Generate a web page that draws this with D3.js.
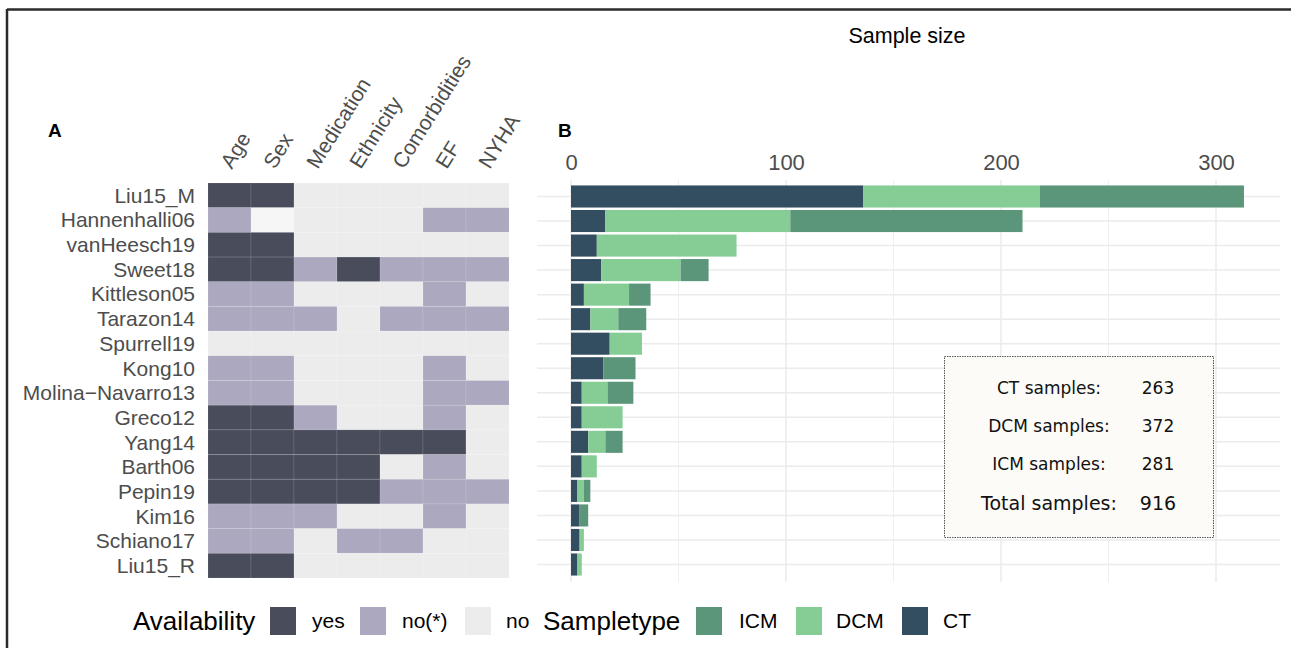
<!DOCTYPE html>
<html>
<head>
<meta charset="utf-8">
<script src="https://cdn.jsdelivr.net/npm/d3@7"></script>
<style>
  html, body { margin: 0; padding: 0; background: #fff; }
  svg { display: block; }
</style>
</head>
<body>
<svg id="fig" width="1291" height="648" font-family="Liberation Sans, Arial, sans-serif"></svg>
<script>
// Studies, top to bottom
const studies = ["Liu15_M", "Hannenhalli06", "vanHeesch19", "Sweet18", "Kittleson05",
  "Tarazon14", "Spurrell19", "Kong10", "Molina\u2212Navarro13", "Greco12", "Yang14",
  "Barth06", "Pepin19", "Kim16", "Schiano17", "Liu15_R"];

// Clinical covariates
const covariates = ["Age", "Sex", "Medication", "Ethnicity", "Comorbidities", "EF", "NYHA"];

// Availability per study (Y = yes, P = no(*), N = no, null = missing)
const availability = [
  ["Y","Y","N","N","N","N","N"],
  ["P",null,"N","N","N","P","P"],
  ["Y","Y","N","N","N","N","N"],
  ["Y","Y","P","Y","P","P","P"],
  ["P","P","N","N","N","P","N"],
  ["P","P","P","N","P","P","P"],
  ["N","N","N","N","N","N","N"],
  ["P","P","N","N","N","P","N"],
  ["P","P","N","N","N","P","P"],
  ["Y","Y","P","N","N","P","N"],
  ["Y","Y","Y","Y","Y","Y","N"],
  ["Y","Y","Y","Y","N","P","N"],
  ["Y","Y","Y","Y","P","P","P"],
  ["P","P","P","N","N","P","N"],
  ["P","P","N","P","P","N","N"],
  ["Y","Y","N","N","N","N","N"]
];

// Sample counts per study
const ctSamples  = [136, 16, 12, 14, 6, 9, 18, 15, 5, 5, 8, 5, 3, 4, 4, 3];
const dcmSamples = [82, 86, 65, 37, 21, 13, 15, 0, 12, 19, 8, 7, 3, 0, 2, 2];
const icmSamples = [95, 108, 0, 13, 10, 13, 0, 15, 12, 0, 8, 0, 3, 4, 0, 0];

const xTicks = [0, 100, 200, 300];
const xGrid = [0, 50, 100, 150, 200, 250, 300];

const availLevels = ["Y", "P", "N"];
const availLabels = ["yes", "no(*)", "no"];
const availColors = ["#484c5b", "#aba8bf", "#ececec"];

const typeLevels = ["ICM", "DCM", "CT"];
const typeColors = { ICM: "#5b957a", DCM: "#86cc95", CT: "#344e61" };

const svg = d3.select("#fig");

// frame edges
svg.append("line").attr("x1", 7).attr("x2", 1291).attr("y1", 9.5).attr("y2", 9.5)
  .attr("stroke", "#2b2b2b").attr("stroke-width", 2.5);
svg.append("line").attr("x1", 7).attr("x2", 7).attr("y1", 9).attr("y2", 648)
  .attr("stroke", "#2b2b2b").attr("stroke-width", 2.5);

// ---------- Panel A: availability heatmap ----------
const hx = d3.scaleBand().domain(covariates).range([208, 509]);
const hy = d3.scaleBand().domain(studies).range([183, 578]);
const availColor = d3.scaleOrdinal().domain(availLevels).range(availColors);

const cells = [];
studies.forEach((s, i) => covariates.forEach((c, j) => cells.push({ s, c, v: availability[i][j] })));

svg.append("g").selectAll("rect").data(cells).join("rect")
  .attr("x", d => hx(d.c)).attr("y", d => hy(d.s))
  .attr("width", hx.bandwidth()).attr("height", hy.bandwidth())
  .attr("fill", d => d.v === null ? "#f6f6f6" : availColor(d.v))
  .attr("stroke", "#ffffff").attr("stroke-opacity", 0.12).attr("stroke-width", 1);

// study labels
svg.append("g").selectAll("text").data(studies).join("text")
  .attr("x", 195).attr("y", d => hy(d) + hy.bandwidth() / 2)
  .attr("dy", "0.35em").attr("text-anchor", "end")
  .attr("font-size", 21).attr("fill", "#4d4d4d").text(d => d);

// covariate labels
svg.append("g").selectAll("text").data(covariates).join("text")
  .attr("transform", d => `translate(${hx(d) + hx.bandwidth() / 2 - 4},${166}) rotate(-58)`)
  .attr("x", 0).attr("y", 0).attr("dy", "0.35em")
  .attr("font-size", 21).attr("fill", "#4d4d4d").text(d => d);

svg.append("text").attr("x", 48).attr("y", 137).attr("font-size", 19)
  .attr("font-weight", "bold").attr("fill", "#000").text("A");

// ---------- Panel B: sample sizes ----------
const bx = d3.scaleLinear().domain([0, 300]).range([571, 1216]);
const by = d3.scaleBand().domain(studies).range([183, 578]).padding(0.1);

const grid = svg.append("g");
grid.selectAll("line.v").data(xGrid).join("line")
  .attr("class", "v").attr("x1", d => bx(d)).attr("x2", d => bx(d))
  .attr("y1", 180).attr("y2", 582)
  .attr("stroke", "#ebebeb").attr("stroke-width", d => d % 100 === 0 ? 1.5 : 0.8);
grid.selectAll("line.h").data(studies).join("line")
  .attr("class", "h").attr("x1", 537).attr("x2", 1280)
  .attr("y1", d => by(d) + by.bandwidth() / 2).attr("y2", d => by(d) + by.bandwidth() / 2)
  .attr("stroke", "#ebebeb").attr("stroke-width", 1.5);

const rows = studies.map((s, i) => ({ study: s, CT: ctSamples[i], DCM: dcmSamples[i], ICM: icmSamples[i] }));
const stacked = d3.stack().keys(["CT", "DCM", "ICM"])(rows);

svg.append("g").selectAll("g").data(stacked).join("g")
  .attr("fill", d => typeColors[d.key])
  .selectAll("rect").data(d => d).join("rect")
  .attr("x", d => bx(d[0])).attr("width", d => bx(d[1]) - bx(d[0]))
  .attr("y", d => by(d.data.study)).attr("height", by.bandwidth());

const axis = svg.append("g").attr("transform", "translate(0,170)")
  .call(d3.axisTop(bx).tickValues(xTicks).tickSize(0).tickPadding(0).tickFormat(d3.format("d")));
axis.select(".domain").remove();
axis.attr("font-family", "Liberation Sans, Arial, sans-serif").attr("font-size", 22);
axis.selectAll("text").attr("fill", "#4d4d4d").attr("dy", "0");

svg.append("text").attr("x", 907).attr("y", 43).attr("text-anchor", "middle")
  .attr("font-size", 21.5).attr("fill", "#000").text("Sample size");

svg.append("text").attr("x", 558).attr("y", 137).attr("font-size", 19)
  .attr("font-weight", "bold").attr("fill", "#000").text("B");

// summary box
const totals = [
  ["CT samples:", d3.sum(ctSamples)],
  ["DCM samples:", d3.sum(dcmSamples)],
  ["ICM samples:", d3.sum(icmSamples)],
  ["Total samples:", d3.sum(ctSamples) + d3.sum(dcmSamples) + d3.sum(icmSamples)]
];
svg.append("rect").attr("x", 944.5).attr("y", 356.5).attr("width", 269).attr("height", 181)
  .attr("fill", "#fcfbf7").attr("stroke", "#555").attr("stroke-width", 1)
  .attr("stroke-dasharray", "1.5,1");
const boxRowY = [388, 426, 464, 503];
const box = svg.append("g").attr("font-family", "DejaVu Sans, sans-serif").attr("fill", "#111");
totals.forEach((t, i) => {
  const fs = i === 3 ? 19 : 17;
  box.append("text").attr("x", 1049).attr("y", boxRowY[i]).attr("dy", "0.35em")
    .attr("text-anchor", "middle").attr("font-size", fs).text(t[0]);
  box.append("text").attr("x", 1158).attr("y", boxRowY[i]).attr("dy", "0.35em")
    .attr("text-anchor", "middle").attr("font-size", fs).text(t[1]);
});

// ---------- Legends ----------
const legY = 621;
const leg = svg.append("g");
leg.append("text").attr("x", 133).attr("y", legY).attr("dy", "0.35em")
  .attr("font-size", 26).attr("fill", "#000").text("Availability");
const availKeyX = [270, 360, 465];
const availTextX = [312, 402, 506];
availLevels.forEach((k, i) => {
  leg.append("rect").attr("x", availKeyX[i]).attr("y", legY - 14).attr("width", 26).attr("height", 28)
    .attr("fill", availColor(k));
  leg.append("text").attr("x", availTextX[i]).attr("y", legY).attr("dy", "0.35em")
    .attr("font-size", 21).attr("fill", "#000").text(availLabels[i]);
});
leg.append("text").attr("x", 543).attr("y", legY).attr("dy", "0.35em")
  .attr("font-size", 26).attr("fill", "#000").text("Sampletype");
const typeKeyX = [696, 796, 902];
const typeTextX = [739, 836, 943];
typeLevels.forEach((k, i) => {
  leg.append("rect").attr("x", typeKeyX[i]).attr("y", legY - 14).attr("width", 26).attr("height", 28)
    .attr("fill", typeColors[k]);
  leg.append("text").attr("x", typeTextX[i]).attr("y", legY).attr("dy", "0.35em")
    .attr("font-size", 21).attr("fill", "#000").text(k);
});
</script>
</body>
</html>
